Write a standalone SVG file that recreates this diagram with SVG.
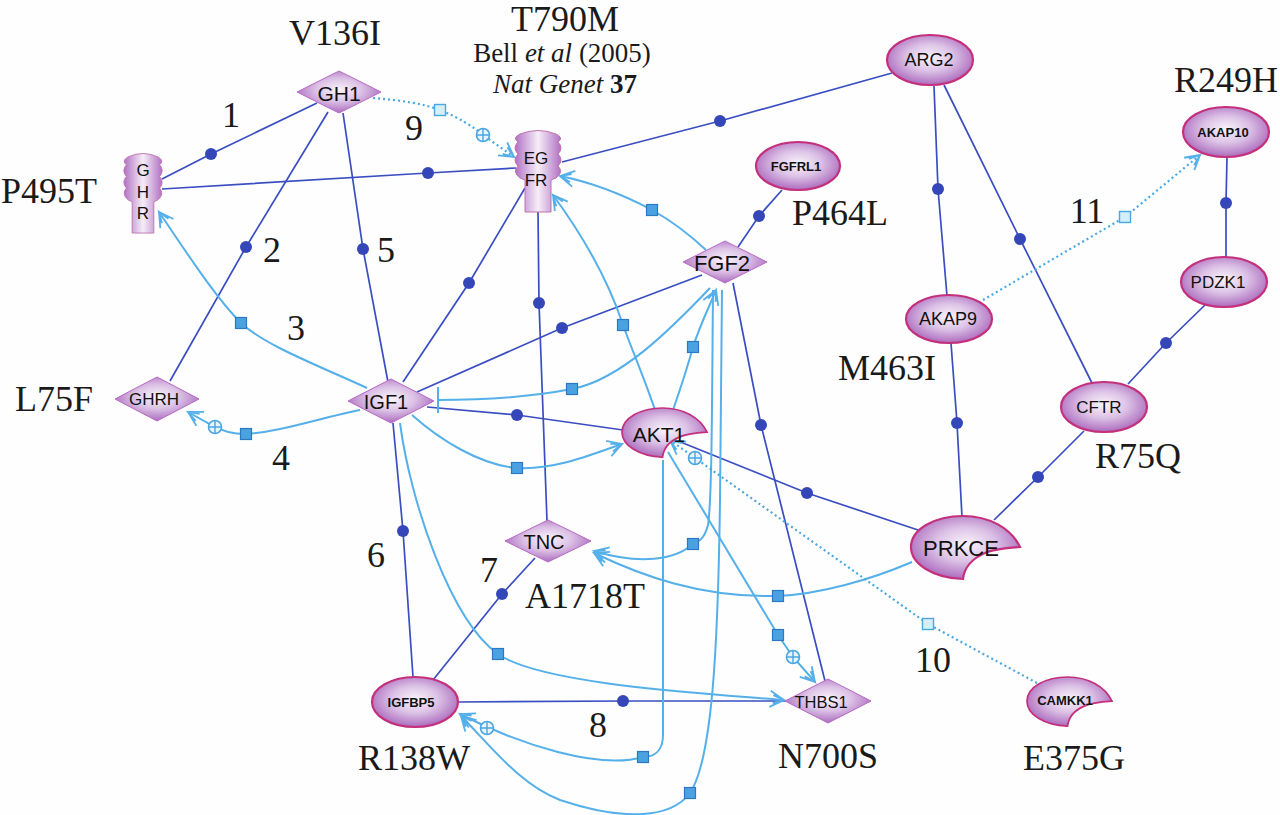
<svg xmlns="http://www.w3.org/2000/svg" width="1280" height="815" viewBox="0 0 1280 815">
<defs>
<radialGradient id="ng" cx="0.5" cy="0.45" r="0.6">
<stop offset="0" stop-color="#faf4fb"/>
<stop offset="0.45" stop-color="#dcc2e6"/>
<stop offset="1" stop-color="#a35cb6"/>
</radialGradient>
<linearGradient id="rg" x1="0" y1="0" x2="1" y2="0">
<stop offset="0" stop-color="#b070c4"/>
<stop offset="0.5" stop-color="#f6eef8"/>
<stop offset="1" stop-color="#b070c4"/>
</linearGradient>
<marker id="arr" markerWidth="18" markerHeight="18" refX="15" refY="9" orient="auto" markerUnits="userSpaceOnUse">
<path d="M1,1 L15,9 L1,17 M4,5 L15,9 L4,13" fill="none" stroke="#55b0ea" stroke-width="1.8"/>
</marker>
<marker id="tbar" markerWidth="6" markerHeight="28" refX="3" refY="14" orient="auto" markerUnits="userSpaceOnUse">
<path d="M3,1 L3,27" stroke="#55b0ea" stroke-width="2"/>
</marker>
<g id="oplus">
<circle r="6.5" fill="#e8f5fc" stroke="#4aa6e2" stroke-width="1.6"/>
<path d="M-6.5,0 H6.5 M0,-6.5 V6.5" stroke="#4aa6e2" stroke-width="1.4"/>
</g>
<path id="crescent" d="M0,31 C0,13 24,0 52,0 C78,0 100,12 109,31 C95,32 82,33 74,37 C60,43 53,53 52,63 C22,62 0,48 0,31 Z"/>
<path id="receptor" d="M6,4 Q24,-3 42,4 Q50,8 44,12 Q50,18 44,24 Q50,30 44,36 Q50,42 42,48 L37,50 L37,82 L11,82 L11,50 L6,48 Q-2,42 4,36 Q-2,30 4,24 Q-2,18 4,12 Q-2,8 6,4 Z"/>
</defs>
<style>
.dk{fill:none;stroke:#3a4ec2;stroke-width:1.7}
.dot{fill:#3547b8}
.lt{fill:none;stroke:#55b0ea;stroke-width:2}
.dt{fill:none;stroke:#4aa8e0;stroke-width:2.2;stroke-dasharray:2 3}
.sq{fill:#4aa2e0;stroke:#2c78c4;stroke-width:1.2}
.sqd{fill:#d4eefa;stroke:#4aa8e0;stroke-width:1.4}
.node{fill:url(#ng);stroke:#c4307c;stroke-width:2.2}
.dia{fill:url(#ng);stroke:#b86ac6;stroke-width:1}
.rec{fill:url(#rg);stroke:#c070b0;stroke-width:1}
.nt{font-family:"Liberation Sans",Arial,sans-serif;fill:#111;text-anchor:middle;dominant-baseline:central}
.lb{font-family:"Liberation Serif","Times New Roman",serif;font-size:36px;fill:#1a1a1a}
.num{font-family:"Liberation Serif","Times New Roman",serif;font-size:36px;fill:#1a1a1a;text-anchor:middle}
</style>
<rect width="1280" height="815" fill="#fefefe"/>

<g id="connectors">
<path class="dk" d="M317,103 L211,154 L162,179"/>
<path class="dk" d="M162,189 L428,173 L516,168"/>
<path class="dk" d="M328,112 L246,247 L170,381"/>
<path class="dk" d="M343,113 L363,249 L388,382"/>
<path class="dk" d="M525,188 L469,283 L403,382"/>
<path class="dk" d="M538,212 L539,303 L547,521"/>
<path class="dk" d="M562,162 L720,121 L892,73"/>
<path class="dk" d="M417,392 L562,328 L702,275"/>
<path class="dk" d="M427,407 L517,415 L623,430"/>
<path class="dk" d="M668,437 L807,493 L918,530"/>
<path class="dk" d="M782,190 L759,216 L738,247"/>
<path class="dk" d="M733,283 L761,425 L825,681"/>
<path class="dk" d="M393,423 L403,531 L413,677"/>
<path class="dk" d="M535,558 L502,594 L433,680"/>
<path class="dk" d="M458,702 L623,701 L786,701"/>
<path class="dk" d="M934,86 L938,189 L947,296"/>
<path class="dk" d="M944,85 L1020,239 L1092,383"/>
<path class="dk" d="M1227,157 L1226,203 L1226,257"/>
<path class="dk" d="M1205,305 L1166,343 L1128,384"/>
<path class="dk" d="M951,343 L957,423 L962,517"/>
<path class="dk" d="M1084,431 L1038,477 L994,520"/>
<g class="dot">
<circle cx="211" cy="154" r="6"/><circle cx="428" cy="173" r="6"/><circle cx="246" cy="247" r="6"/>
<circle cx="363" cy="249" r="6"/><circle cx="469" cy="283" r="6"/><circle cx="539" cy="303" r="6"/>
<circle cx="720" cy="121" r="6"/><circle cx="562" cy="328" r="6"/><circle cx="517" cy="415" r="6"/>
<circle cx="807" cy="493" r="6"/><circle cx="759" cy="216" r="6"/><circle cx="761" cy="425" r="6"/>
<circle cx="403" cy="531" r="6"/><circle cx="502" cy="594" r="6"/><circle cx="623" cy="701" r="6"/>
<circle cx="938" cy="189" r="6"/><circle cx="1020" cy="239" r="6"/><circle cx="1226" cy="203" r="6"/>
<circle cx="1166" cy="343" r="6"/><circle cx="957" cy="423" r="6"/><circle cx="1038" cy="477" r="6"/>
</g>
<path class="lt" marker-end="url(#arr)" d="M367,388 C310,362 265,345 241,323 C215,297 185,250 159,212"/>
<path class="lt" marker-end="url(#arr)" d="M360,410 C320,418 280,432 246,434 C230,434 222,430 215,427 L188,412"/>
<path class="lt" marker-end="url(#arr)" d="M706,250 C690,235 670,220 652,210 C620,193 590,182 560,176"/>
<path class="lt" marker-end="url(#arr)" d="M655,410 C645,380 632,350 623,325 C605,270 575,225 553,195"/>
<path class="lt" marker-end="url(#arr)" d="M673,410 C680,390 688,365 693,347 C700,325 710,305 716,290"/>
<path class="lt" marker-end="url(#arr)" d="M412,415 C440,440 480,465 517,468 C555,470 590,455 622,444"/>
<path class="lt" marker-end="url(#tbar)" d="M710,288 C670,330 620,380 572,389 C530,397 480,400 438,400"/>
<path class="lt" marker-end="url(#arr)" d="M400,423 C410,500 450,620 498,654 C540,684 700,693 784,700"/>
<path class="lt" marker-end="url(#arr)" d="M668,452 L778,635 L793,657 L815,682"/>
<path class="lt" marker-end="url(#arr)" d="M663,460 L663,735 C663,750 655,757 643,757 C600,770 520,745 460,714"/>
<path class="lt" marker-end="url(#arr)" d="M722,290 L720,500 C718,650 712,760 690,793 C670,820 620,820 560,800 C520,785 490,745 461,716"/>
<path class="lt" marker-end="url(#arr)" d="M713,290 C712,400 712,500 708,525 C704,540 698,542 693,544 C675,560 640,565 594,551"/>
<path class="lt" marker-end="url(#arr)" d="M912,562 C870,580 820,594 778,596 C700,598 640,575 594,553"/>
<path class="dt" marker-end="url(#arr)" d="M373,98 C400,100 425,104 440,110 C460,118 475,128 483,135 L514,157"/>
<path class="dt" marker-end="url(#arr)" d="M1037,683 L928,624 L695,458 L670,440"/>
<path class="dt" marker-end="url(#arr)" d="M983,300 L1125,217 L1200,155"/>
<g class="sq">
<rect x="235.5" y="317.5" width="11" height="11"/><rect x="240.5" y="428.5" width="11" height="11"/>
<rect x="646.5" y="204.5" width="11" height="11"/><rect x="617.5" y="319.5" width="11" height="11"/>
<rect x="687.5" y="341.5" width="11" height="11"/><rect x="511.5" y="462.5" width="11" height="11"/>
<rect x="566.5" y="383.5" width="11" height="11"/><rect x="492.5" y="648.5" width="11" height="11"/>
<rect x="772.5" y="629.5" width="11" height="11"/><rect x="637.5" y="751.5" width="11" height="11"/>
<rect x="684.5" y="787.5" width="11" height="11"/><rect x="687.5" y="538.5" width="11" height="11"/>
<rect x="772.5" y="590.5" width="11" height="11"/>
</g>
<g class="sqd">
<rect x="434.5" y="104.5" width="11" height="11"/><rect x="922.5" y="618.5" width="11" height="11"/>
<rect x="1119.5" y="211.5" width="11" height="11"/>
</g>
<use href="#oplus" transform="translate(215,427)"/>
<use href="#oplus" transform="translate(483,135)"/>
<use href="#oplus" transform="translate(793,657)"/>
<use href="#oplus" transform="translate(487,728)"/>
<use href="#oplus" transform="translate(695,458)"/>
</g>

<g id="node-GH1"><polygon class="dia" points="297,92 339,71 381,92 339,113"/><text class="nt" x="339" y="93" font-size="21">GH1</text></g>
<g id="node-GHR"><use href="#receptor" class="rec" transform="translate(123,153) scale(0.833,0.976)"/>
<text class="nt" x="143" y="170" font-size="17">G</text><text class="nt" x="143" y="192" font-size="17">H</text><text class="nt" x="143" y="213" font-size="17">R</text></g>
<g id="node-EGFR"><use href="#receptor" class="rec" transform="translate(514,130)"/>
<text class="nt" x="536" y="158" font-size="17">EG</text><text class="nt" x="536" y="180" font-size="17">FR</text></g>
<g id="node-ARG2"><ellipse class="node" cx="930" cy="60" rx="43" ry="25"/><text class="nt" x="929" y="60" font-size="18">ARG2</text></g>
<g id="node-AKAP10"><ellipse class="node" cx="1226" cy="132" rx="43" ry="25"/><text class="nt" x="1223" y="132" font-size="13" font-weight="bold">AKAP10</text></g>
<g id="node-FGFRL1"><ellipse class="node" cx="798" cy="166" rx="42" ry="24"/><text class="nt" x="796" y="166" font-size="13" font-weight="bold">FGFRL1</text></g>
<g id="node-FGF2"><polygon class="dia" points="683,262 725,241 767,262 725,283"/><text class="nt" x="722" y="263" font-size="22">FGF2</text></g>
<g id="node-AKAP9"><ellipse class="node" cx="949" cy="319" rx="43" ry="24"/><text class="nt" x="948" y="319" font-size="18">AKAP9</text></g>
<g id="node-PDZK1"><ellipse class="node" cx="1224" cy="282" rx="43" ry="25"/><text class="nt" x="1218" y="282" font-size="17">PDZK1</text></g>
<g id="node-CFTR"><ellipse class="node" cx="1104" cy="407" rx="43" ry="25"/><text class="nt" x="1099" y="407" font-size="17">CFTR</text></g>
<g id="node-GHRH"><polygon class="dia" points="115,399 157,377 199,399 157,421"/><text class="nt" x="154" y="399" font-size="17">GHRH</text></g>
<g id="node-IGF1"><polygon class="dia" points="348,401 391,379 434,401 391,423"/><text class="nt" x="386" y="402" font-size="20">IGF1</text></g>
<g id="node-AKT1"><use href="#crescent" class="node" transform="translate(622,408) scale(0.78)"/><text class="nt" x="659" y="434" font-size="21">AKT1</text></g>
<g id="node-PRKCE"><use href="#crescent" class="node" transform="translate(911,516)"/><text class="nt" x="961" y="548" font-size="22">PRKCE</text></g>
<g id="node-TNC"><polygon class="dia" points="505,541 548,520 591,541 548,562"/><text class="nt" x="544" y="542" font-size="20">TNC</text></g>
<g id="node-IGFBP5"><ellipse class="node" cx="415" cy="702" rx="43" ry="25"/><text class="nt" x="411" y="702" font-size="13" font-weight="bold">IGFBP5</text></g>
<g id="node-THBS1"><polygon class="dia" points="785,701 828,679 871,701 828,723"/><text class="nt" x="821" y="702" font-size="16.5">THBS1</text></g>
<g id="node-CAMKK1"><use href="#crescent" class="node" transform="translate(1027,677) scale(0.78)"/><text class="nt" x="1065" y="700" font-size="13" font-weight="bold">CAMKK1</text></g>

<g id="labels">
<text class="lb" x="335" y="45" text-anchor="middle">V136I</text>
<text class="lb" x="565" y="31" text-anchor="middle">T790M</text>
<text x="562" y="62" text-anchor="middle" font-family="Liberation Serif,Times New Roman,serif" font-size="27" fill="#1a1a1a">Bell <tspan font-style="italic">et al</tspan> (2005)</text>
<text x="565" y="93" text-anchor="middle" font-family="Liberation Serif,Times New Roman,serif" font-size="27" fill="#1a1a1a"><tspan font-style="italic">Nat Genet</tspan> <tspan font-weight="bold">37</tspan></text>
<text class="lb" x="97" y="203" text-anchor="end">P495T</text>
<text class="lb" x="93" y="411" text-anchor="end">L75F</text>
<text class="lb" x="792" y="225">P464L</text>
<text class="lb" x="1278" y="92" text-anchor="end">R249H</text>
<text class="lb" x="838" y="380">M463I</text>
<text class="lb" x="1095" y="468">R75Q</text>
<text class="lb" x="525" y="608">A1718T</text>
<text class="lb" x="358" y="770">R138W</text>
<text class="lb" x="778" y="768">N700S</text>
<text class="lb" x="1023" y="770">E375G</text>
<text class="num" x="231" y="127">1</text>
<text class="num" x="272" y="262">2</text>
<text class="num" x="296" y="340">3</text>
<text class="num" x="281" y="470">4</text>
<text class="num" x="386" y="262">5</text>
<text class="num" x="376" y="567">6</text>
<text class="num" x="489" y="582">7</text>
<text class="num" x="598" y="737">8</text>
<text class="num" x="414" y="140">9</text>
<text class="num" x="933" y="672">10</text>
<text class="num" x="1087" y="223">11</text>
</g>
</svg>
